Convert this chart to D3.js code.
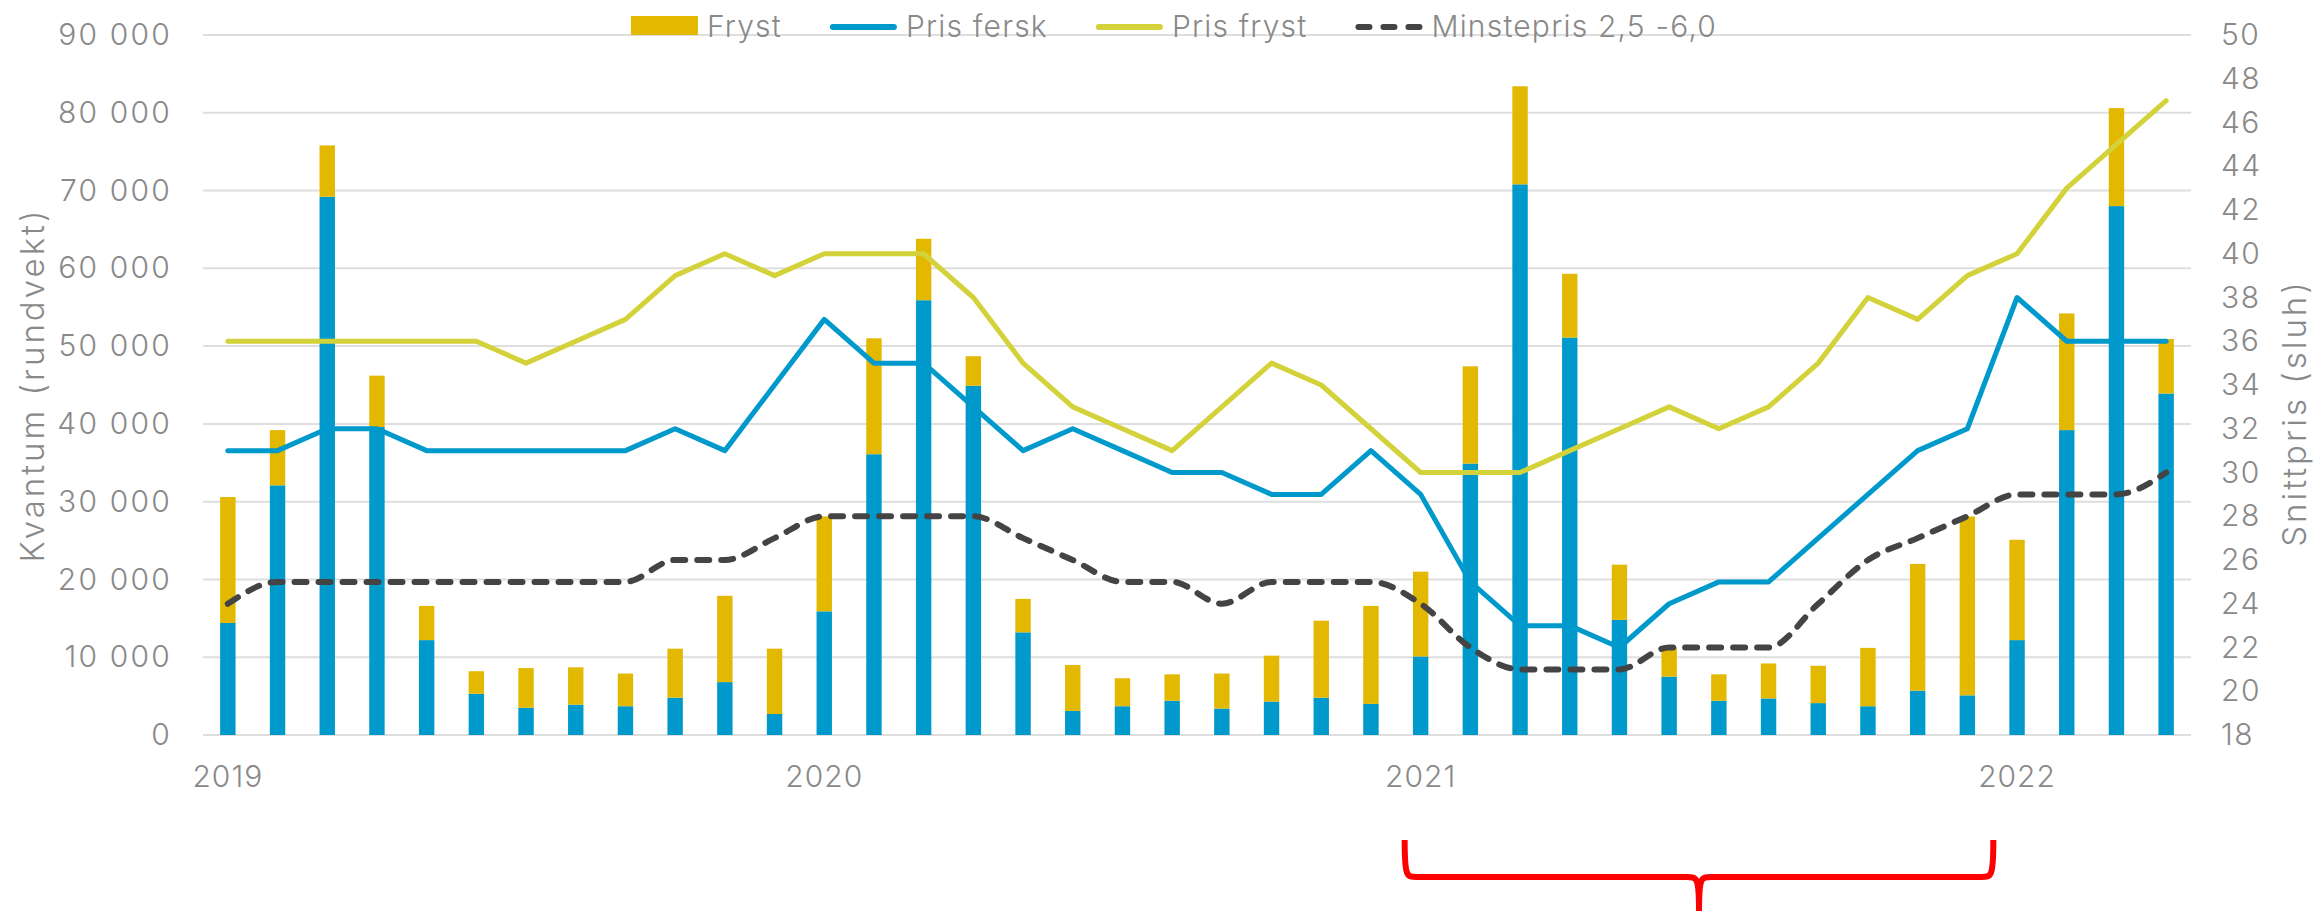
<!DOCTYPE html>
<html>
<head>
<meta charset="utf-8">
<script src="https://cdn.jsdelivr.net/npm/d3@7"></script>
<style>
  html, body { margin: 0; padding: 0; background: #fff; }
  text { font-family: Inter, "Open Sans", sans-serif; font-weight: 300; fill: #898989; }
</style>
</head>
<body>
<div id="chart"></div>
<script>
// months Jan 2019 - Apr 2022
const months = [
  "2019-01","2019-02","2019-03","2019-04","2019-05","2019-06","2019-07","2019-08","2019-09","2019-10","2019-11","2019-12",
  "2020-01","2020-02","2020-03","2020-04","2020-05","2020-06","2020-07","2020-08","2020-09","2020-10","2020-11","2020-12",
  "2021-01","2021-02","2021-03","2021-04","2021-05","2021-06","2021-07","2021-08","2021-09","2021-10","2021-11","2021-12",
  "2022-01","2022-02","2022-03","2022-04"
];

// kvantum (rundvekt)
const fersk = [
  14400, 32100, 69200, 39600, 12200, 5300, 3500, 3900, 3700, 4800, 6800, 2700,
  15900, 36100, 55900, 44900, 13200, 3100, 3700, 4400, 3400, 4300, 4800, 4000,
  10100, 34900, 70800, 51100, 14800, 7500, 4400, 4700, 4100, 3700, 5700, 5100,
  12200, 39200, 68000, 43900
];
const fryst = [
  16200, 7100, 6600, 6600, 4400, 2900, 5100, 4800, 4200, 6300, 11100, 8400,
  12200, 14900, 7900, 3800, 4300, 5900, 3600, 3400, 4500, 5900, 9900, 12600,
  10900, 12500, 12600, 8200, 7100, 3800, 3400, 4500, 4800, 7500, 16300, 23000,
  12900, 15000, 12600, 7000
];

// snittpris (sluh)
const prisFersk = [
  31, 31, 32, 32, 31, 31, 31, 31, 31, 32, 31, 34,
  37, 35, 35, 33, 31, 32, 31, 30, 30, 29, 29, 31,
  29, 25, 23, 23, 22, 24, 25, 25, 27, 29, 31, 32,
  38, 36, 36, 36
];
const prisFryst = [
  36, 36, 36, 36, 36, 36, 35, 36, 37, 39, 40, 39,
  40, 40, 40, 38, 35, 33, 32, 31, 33, 35, 34, 32,
  30, 30, 30, 31, 32, 33, 32, 33, 35, 38, 37, 39,
  40, 43, 45, 47
];
const minstepris = [
  24, 25, 25, 25, 25, 25, 25, 25, 25, 26, 26, 27,
  28, 28, 28, 28, 27, 26, 25, 25, 24, 25, 25, 25,
  24, 22, 21, 21, 21, 22, 22, 22, 24, 26, 27, 28,
  29, 29, 29, 30
];

const yearTicks = ["2019-01", "2020-01", "2021-01", "2022-01"];
const leftTicks = d3.range(0, 90001, 10000);
const rightTicks = d3.range(18, 51, 2);

const colors = {fersk: "#0099cc", fryst: "#e2b800", prisFersk: "#0099cc", prisFryst: "#d4d23a", minste: "#444444"};

const width = 2313, height = 911;
const margin = {top: 35, right: 122, bottom: 176, left: 203};

const svg = d3.select("#chart").append("svg")
    .attr("width", width)
    .attr("height", height);

const x = d3.scaleBand()
    .domain(months)
    .range([margin.left, width - margin.right])
    .paddingInner(0.69)
    .paddingOuter(0.345);

const yL = d3.scaleLinear().domain([0, 90000]).range([height - margin.bottom, margin.top]);
const yR = d3.scaleLinear().domain([18, 50]).range([height - margin.bottom, margin.top]);

const locale = d3.formatLocale({decimal: ",", thousands: " ", grouping: [3], currency: ["", " kr"]});
const fmt = locale.format(",d");

// gridlines
svg.append("g").selectAll("line")
    .data(leftTicks)
    .enter()
    .append("line")
    .attr("x1", margin.left)
    .attr("x2", width - margin.right)
    .attr("y1", d => yL(d))
    .attr("y2", d => yL(d))
    .attr("stroke", "#dedede")
    .attr("stroke-width", 2);

// axes
const axisL = svg.append("g")
    .attr("transform", `translate(${margin.left},0)`)
    .call(d3.axisLeft(yL).tickValues(leftTicks).tickSize(0).tickPadding(31).tickFormat(fmt));
const axisR = svg.append("g")
    .attr("transform", `translate(${width - margin.right},0)`)
    .call(d3.axisRight(yR).tickValues(rightTicks).tickSize(0).tickPadding(30));
const axisB = svg.append("g")
    .attr("transform", `translate(0,${height - margin.bottom})`)
    .call(d3.axisBottom(x).tickValues(yearTicks).tickSize(0).tickPadding(31).tickFormat(d => d.slice(0, 4)));

[[axisL, "2.2px"], [axisR, "1.5px"], [axisB, "1px"]].forEach(([g, ls]) => {
    g.select(".domain").remove();
    g.selectAll("text")
        .attr("fill", "#898989")
        .style("font-size", "30px")
        .style("letter-spacing", ls);
});

// axis titles
svg.append("text")
    .attr("transform", `translate(32,${(yL(0) + yL(90000)) / 2}) rotate(-90)`)
    .attr("text-anchor", "middle")
    .attr("dominant-baseline", "central")
    .style("font-size", "33px")
    .style("letter-spacing", "3px")
    .text("Kvantum (rundvekt)");

svg.append("text")
    .attr("transform", `translate(2294,413) rotate(-90)`)
    .attr("text-anchor", "middle")
    .attr("dominant-baseline", "central")
    .style("font-size", "33px")
    .style("letter-spacing", "3px")
    .text("Snittpris (sluh)");

// stacked bars
const table = months.map((m, i) => ({month: m, fersk: fersk[i], fryst: fryst[i]}));
const series = d3.stack().keys(["fersk", "fryst"])(table);

svg.append("g").selectAll("g")
    .data(series)
    .enter()
    .append("g")
    .attr("fill", d => colors[d.key])
    .selectAll("rect")
    .data(d => d)
    .enter()
    .append("rect")
    .attr("x", d => x(d.data.month))
    .attr("width", x.bandwidth())
    .attr("y", d => yL(d[1]))
    .attr("height", d => yL(d[0]) - yL(d[1]));

// price lines
const cx = i => x(months[i]) + x.bandwidth() / 2;

const straight = d3.line().x((d, i) => cx(i)).y(d => yR(d));
const smooth = d3.line().x((d, i) => cx(i)).y(d => yR(d)).curve(d3.curveMonotoneX);

svg.append("path")
    .attr("d", straight(prisFersk))
    .attr("fill", "none")
    .attr("stroke", colors.prisFersk)
    .attr("stroke-width", 5)
    .attr("stroke-linejoin", "round")
    .attr("stroke-linecap", "round");

svg.append("path")
    .attr("d", straight(prisFryst))
    .attr("fill", "none")
    .attr("stroke", colors.prisFryst)
    .attr("stroke-width", 5)
    .attr("stroke-linejoin", "round")
    .attr("stroke-linecap", "round");

svg.append("path")
    .attr("d", smooth(minstepris))
    .attr("fill", "none")
    .attr("stroke", colors.minste)
    .attr("stroke-width", 6)
    .attr("stroke-dasharray", "12 12")
    .attr("stroke-linecap", "round");

// legend
const legendItems = [
    {label: "Fryst", type: "rect", color: colors.fryst},
    {label: "Pris fersk", type: "line", color: colors.prisFersk},
    {label: "Pris fryst", type: "line", color: colors.prisFryst},
    {label: "Minstepris 2,5 -6,0", type: "dash", color: colors.minste}
];

const legend = svg.append("g");
let lx = 0;
legendItems.forEach(item => {
    const g = legend.append("g").attr("transform", `translate(${lx},0)`);
    if (item.type === "rect") {
        g.append("rect").attr("x", 0).attr("y", 16).attr("width", 67).attr("height", 19).attr("fill", item.color);
    } else if (item.type === "line") {
        g.append("line").attr("x1", 3).attr("x2", 64).attr("y1", 27).attr("y2", 27)
            .attr("stroke", item.color).attr("stroke-width", 6).attr("stroke-linecap", "round");
    } else {
        g.append("line").attr("x1", 3).attr("x2", 64).attr("y1", 27).attr("y2", 27)
            .attr("stroke", item.color).attr("stroke-width", 6).attr("stroke-linecap", "round")
            .attr("stroke-dasharray", "11 14");
    }
    const t = g.append("text")
        .attr("x", 76)
        .attr("y", 37)
        .style("font-size", "30px")
        .style("letter-spacing", "1.2px")
        .text(item.label);
    lx += 76 + t.node().getComputedTextLength() + 48;
});
const legendW = lx - 48;
legend.attr("transform", `translate(${1174 - legendW / 2},0)`);

// red bracket under 2021
const bl = x("2021-01") + x.bandwidth() / 2 - 16;
const br = x("2021-12") + x.bandwidth() / 2 + 26;
const bm = (bl + br) / 2;
const bTop = 840, bY = 877, bBot = height;
svg.append("path")
    .attr("d", `M${bl},${bTop} C${bl},${bY} ${bl + 2},${bY} ${bl + 12},${bY} L${bm - 12},${bY} C${bm - 2},${bY} ${bm},${bY} ${bm},${bBot}
                M${br},${bTop} C${br},${bY} ${br - 2},${bY} ${br - 12},${bY} L${bm + 12},${bY} C${bm + 2},${bY} ${bm},${bY} ${bm},${bBot}`)
    .attr("fill", "none")
    .attr("stroke", "#ff0000")
    .attr("stroke-width", 6);
</script>
</body>
</html>
